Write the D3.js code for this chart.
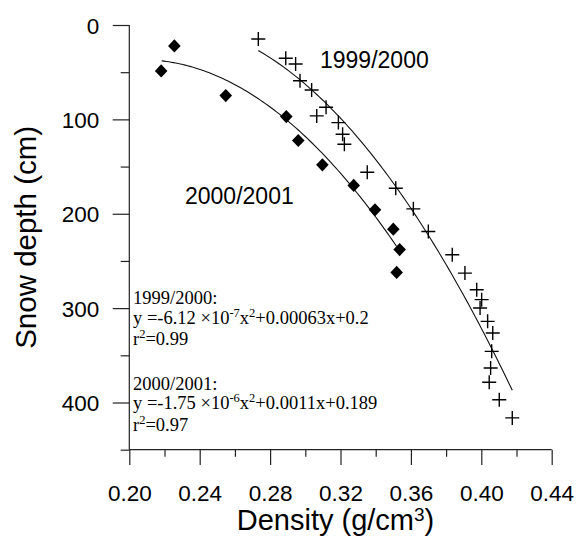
<!DOCTYPE html>
<html>
<head>
<meta charset="utf-8">
<script src="https://cdn.jsdelivr.net/npm/d3@7"></script>
<style>
  html, body { margin: 0; padding: 0; background: #fff; }
  svg { display: block; }
</style>
</head>
<body>
<svg id="chart" width="577" height="548"></svg>
<script>
// ---- data ----
const xTicksMajor = [0.20, 0.24, 0.28, 0.32, 0.36, 0.40, 0.44];
const xTickLabels = ["0.20", "0.24", "0.28", "0.32", "0.36", "0.40", "0.44"];
const xTicksMinor = [0.22, 0.26, 0.30, 0.34, 0.38, 0.42];
const yTicksMajor = [0, 100, 200, 300, 400];
const yTickLabels = ["0", "100", "200", "300", "400"];
const yTicksMinor = [50, 150, 250, 350, 450];

// 1999/2000 (crosses): density, depth
const density1999 = [0.2733, 0.2889, 0.2945, 0.2970, 0.3036, 0.3118, 0.3065, 0.3188, 0.3212, 0.3222,
  0.3352, 0.3514, 0.3614, 0.3699, 0.3835, 0.3907, 0.3974, 0.4002, 0.3993, 0.4036,
  0.4065, 0.4059, 0.4053, 0.4045, 0.4102, 0.4176];
const depth1999 = [14.8, 35.3, 41.3, 59, 68.8, 87.1, 96.3, 103.4, 115.7, 126.3,
  156, 172.9, 194.8, 218.8, 243.5, 262.9, 280.5, 291, 299.9, 314,
  326.4, 345.8, 363.4, 378.6, 397, 416.3];

// 2000/2001 (diamonds): density, depth
const density2000 = [0.2181, 0.2256, 0.2548, 0.2892, 0.2960, 0.3097, 0.3275, 0.3396, 0.3500, 0.3536, 0.3519];
const depth2000 = [48.7, 22.2, 74.8, 97, 122.4, 148.2, 170, 195.8, 216.3, 238, 262.2];

// fitted curves: depth = c0 + c1*d + c2*d^2 over density range
const fitCoef1999 = [467.6, -4299.5, 9834];
const fitRange1999 = [0.2733, 0.4176];
const fitCoef2000 = [442.8, -3918, 9453];
const fitRange2000 = [0.2184, 0.3519];

const seriesLabels = ["1999/2000", "2000/2001"];
const eqLines1999 = ["1999/2000:", "y =-6.12 ×10", "-7", "x", "2", "+0.00063x+0.2", "r", "2", "=0.99"];
const eqLines2000 = ["2000/2001:", "y =-1.75 ×10", "-6", "x", "2", "+0.0011x+0.189", "r", "2", "=0.97"];

// ---- layout ----
const svg = d3.select("#chart");
const x = d3.scaleLinear().domain([0.20, 0.44]).range([129.3, 551.7]);
const y = d3.scaleLinear().domain([0, 450]).range([25, 449.7]);
const axisColor = "#222";
const sans = "Arial, 'Liberation Sans', Helvetica, sans-serif";
const serif = "'Times New Roman', 'Liberation Serif', serif";

// X axis
const gx = svg.append("g").attr("transform", `translate(0,${y(450)})`);
gx.call(d3.axisBottom(x).tickValues(xTicksMajor).tickSize(15.3).tickSizeOuter(0)
  .tickFormat((d, i) => xTickLabels[i]));
gx.append("g").call(d3.axisBottom(x).tickValues(xTicksMinor).tickSize(7).tickSizeOuter(0).tickFormat(""))
  .select(".domain").remove();
gx.selectAll(".domain").attr("stroke", axisColor).attr("stroke-width", 1.2)
  .attr("d", `M${x(0.20)},0H${x(0.44)}`);
gx.selectAll(".tick line").attr("stroke", axisColor).attr("stroke-width", 1.2);
gx.selectAll(".tick text").attr("font-family", sans).attr("font-size", 22.5).attr("fill", "#000")
  .attr("dy", null).attr("y", 51.3);

// Y axis
const gy = svg.append("g").attr("transform", `translate(${x(0.20)},0)`);
gy.call(d3.axisLeft(y).tickValues(yTicksMajor).tickSize(16.6).tickSizeOuter(0)
  .tickFormat((d, i) => yTickLabels[i]));
gy.append("g").call(d3.axisLeft(y).tickValues(yTicksMinor).tickSize(8.6).tickSizeOuter(0).tickFormat(""))
  .select(".domain").remove();
gy.selectAll(".domain").attr("stroke", axisColor).attr("stroke-width", 1.2)
  .attr("d", `M0,${y(0)}V${y(450)}`);
gy.selectAll(".tick line").attr("stroke", axisColor).attr("stroke-width", 1.2);
gy.selectAll(".tick text").attr("font-family", sans).attr("font-size", 22.5).attr("fill", "#000")
  .attr("x", -30).attr("dy", "0.36em");

// axis titles
const xt = svg.append("text").attr("x", (x(0.20) + x(0.44)) / 2 - 5).attr("y", 530)
  .attr("text-anchor", "middle").attr("font-family", sans).attr("font-size", 29).attr("fill", "#000");
xt.append("tspan").text("Density (g/cm");
xt.append("tspan").attr("font-size", 19).attr("dy", -9).text("3");
xt.append("tspan").attr("dy", 9).text(")");

svg.append("text").attr("transform", `translate(35.5,${(y(0) + y(450)) / 2}) rotate(-90)`)
  .attr("text-anchor", "middle").attr("font-family", sans).attr("font-size", 29.5).attr("fill", "#000")
  .text("Snow depth (cm)");

const plot = svg.append("g");

// curves
function curvePts(coef, range) {
  return d3.range(0, 101).map(i => {
    const d = range[0] + (range[1] - range[0]) * i / 100;
    return [d, coef[0] + coef[1] * d + coef[2] * d * d];
  });
}
const line = d3.line().x(p => x(p[0])).y(p => y(p[1]));
plot.append("path").attr("d", line(curvePts(fitCoef1999, fitRange1999)))
  .attr("fill", "none").attr("stroke", "#111").attr("stroke-width", 1.1);
plot.append("path").attr("d", line(curvePts(fitCoef2000, fitRange2000)))
  .attr("fill", "none").attr("stroke", "#111").attr("stroke-width", 1.1);

// crosses
plot.selectAll("path.cross").data(density1999.map((d, i) => [d, depth1999[i]]))
  .join("path").attr("class", "cross")
  .attr("d", p => `M${x(p[0]) - 7},${y(p[1])}H${x(p[0]) + 7}M${x(p[0])},${y(p[1]) - 7}V${y(p[1]) + 7}`)
  .attr("stroke", "#000").attr("stroke-width", 1.4).attr("fill", "none");

// diamonds
plot.selectAll("path.diamond").data(density2000.map((d, i) => [d, depth2000[i]]))
  .join("path").attr("class", "diamond")
  .attr("d", p => `M${x(p[0])},${y(p[1]) - 6.6}L${x(p[0]) + 6.3},${y(p[1])}L${x(p[0])},${y(p[1]) + 6.6}L${x(p[0]) - 6.3},${y(p[1])}Z`)
  .attr("fill", "#000");

// series labels
svg.append("text").attr("x", 320).attr("y", 68.3).attr("font-family", sans).attr("font-size", 23)
  .attr("fill", "#000").text(seriesLabels[0]);
svg.append("text").attr("x", 185).attr("y", 204).attr("font-family", sans).attr("font-size", 23)
  .attr("fill", "#000").text(seriesLabels[1]);

// equations
function eqBlock(lines, y0) {
  const fs = 18.5, sup = 12.5;
  const g = svg.append("g").attr("font-family", serif).attr("font-size", fs).attr("fill", "#000");
  g.append("text").attr("x", 133).attr("y", y0).text(lines[0]);
  const t2 = g.append("text").attr("x", 133).attr("y", y0 + 19.5);
  t2.append("tspan").text(lines[1]);
  t2.append("tspan").attr("font-size", sup).attr("dy", -7).text(lines[2]);
  t2.append("tspan").attr("dy", 7).text(lines[3]);
  t2.append("tspan").attr("font-size", sup).attr("dy", -7).text(lines[4]);
  t2.append("tspan").attr("dy", 7).text(lines[5]);
  const t3 = g.append("text").attr("x", 133).attr("y", y0 + 41);
  t3.append("tspan").text(lines[6]);
  t3.append("tspan").attr("font-size", sup).attr("dy", -7).text(lines[7]);
  t3.append("tspan").attr("dy", 7).text(lines[8]);
}
eqBlock(eqLines1999, 304);
eqBlock(eqLines2000, 389.5);
</script>
</body>
</html>
